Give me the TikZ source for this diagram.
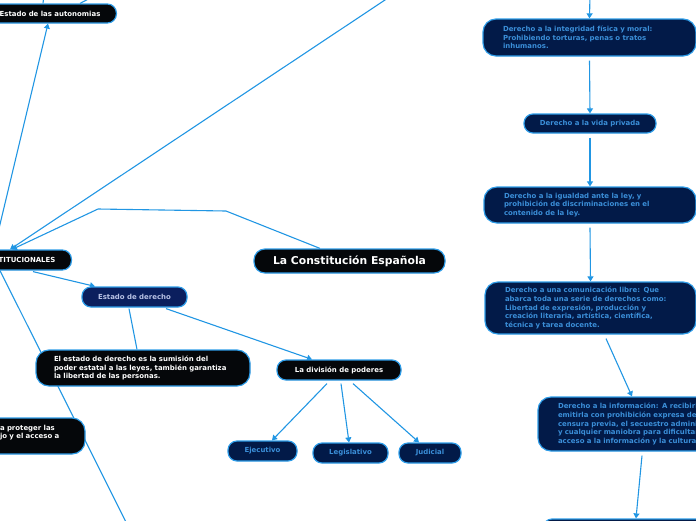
\documentclass[tikz,border=0pt]{standalone}
\usepackage{fontspec}
\setmainfont{DejaVu Sans}
\usetikzlibrary{arrows.meta,backgrounds}
\definecolor{linec}{HTML}{2196E3}
\definecolor{bordc}{HTML}{2D9CE8}
\definecolor{blkfill}{HTML}{05070A}
\definecolor{navyfill}{HTML}{021A48}
\definecolor{edfill}{HTML}{0B1F5E}
\definecolor{bluetxt}{HTML}{3B8FD9}
\definecolor{edtxt}{HTML}{B9C3E6}
\begin{document}
\begin{tikzpicture}[x=1pt,y=-1pt,
 conn/.style={draw=linec, line width=1.1pt},
 arr/.style={conn, -{Triangle[length=5pt,width=6pt]}},
 box/.style={draw=bordc, line width=1.2pt, rounded corners=9pt, inner sep=0pt,
   font=\fontsize{6.95}{8.6}\selectfont\bfseries},
 blk/.style={box, fill=blkfill, text=white},
 navy/.style={box, fill=navyfill, text=bluetxt},
 tall/.style={align=left, rounded corners=13pt, inner xsep=20pt},
]
\useasboundingbox (0,0) rectangle (696,520);
\clip (0,0) rectangle (696,520);

% nodes
\node[blk, inner xsep=16pt, minimum height=19, anchor=east] (auto) at (117,13.5) {Estado de las autonomias};
\node[blk, inner xsep=16pt, minimum height=20, anchor=east] (hub) at (72,260) {CONSTITUCIONALES};
\node[blk, font=\fontsize{10.8}{13}\selectfont\bfseries, minimum width=191, minimum height=24, rounded corners=11pt] (ce) at (349.5,261) {La Constitución Española};
\node[box, fill=edfill, text=edtxt, minimum width=105, minimum height=20] (ed) at (134.5,297) {Estado de derecho};
\node[blk, tall, inner xsep=18pt, text width=178, minimum height=36] (eed) at (143,368) {El estado de derecho es la sumisión del\\poder estatal a las leyes, también garantiza\\la libertad de las personas.};
\node[blk, minimum width=124, minimum height=20] (dp) at (339,370) {La división de poderes};
\node[navy, minimum width=69, minimum height=20] (ej) at (262.5,451) {Ejecutivo};
\node[navy, minimum width=75, minimum height=20] (leg) at (350.5,453) {Legislativo};
\node[navy, minimum width=62, minimum height=20] (jud) at (430,453) {Judicial};
\node[blk, tall, text width=65, minimum height=36] (prot) at (32.5,436) {a proteger las\\jo y el acceso a\\~};

\node[navy, tall, text width=173, minimum height=37] (integ) at (589.5,37.5) {Derecho a la integridad física y moral:\\Prohibiendo torturas, penas o tratos\\inhumanos.};
\node[navy, minimum width=132, minimum height=19] (vida) at (590,123.5) {Derecho a la vida privada};
\node[navy, tall, text width=172, minimum height=36] (igual) at (590,205) {Derecho a la igualdad ante la ley, y\\prohibición de discriminaciones en el\\contenido de la ley.};
\node[navy, tall, text width=171, minimum height=52] (comun) at (590.5,308) {Derecho a una comunicación libre: Que\\abarca toda una serie de derechos como:\\Libertad de expresión, producción y\\creación literaria, artística, científica,\\técnica y tarea docente.};
\node[navy, tall, text width=182, minimum height=54] (info) at (649,424) {Derecho a la información: A recibirla y\\emitirla con prohibición expresa de la\\censura previa, el secuestro administrativo\\y cualquier maniobra para dificultar el\\acceso a la información y la cultura.};
\node[navy, minimum width=222, minimum height=40] (bot) at (654,539) {};

\coordinate (topin) at (590,-6);
\coordinate (bigfar) at (400,-10);
\coordinate (offb) at (130,530);
\coordinate (a1) at (44,-6);
\coordinate (a2) at (98,-6);

\begin{pgfonlayer}{background}
\clip (0,0) rectangle (696,520);
\draw[conn] ([xshift=-74pt]auto.north east) -- (a1);
\draw[conn] ([xshift=-37pt]auto.north east) -- (a2);
\draw[arr] ([xshift=-78pt]hub.north east) -- ([xshift=-69pt]auto.south east);
\draw[arr] (bigfar) -- ([xshift=-62pt]hub.north east);
\draw[arr] ([xshift=-29.5pt]ce.north) -- (226,211) -- (98,209) -- ([xshift=-60pt]hub.north east);
\draw[conn] ([xshift=-72pt]hub.south east) -- (offb);
\draw[arr] ([xshift=-39pt,yshift=-1pt]hub.south east) -- ([xshift=-39.5pt]ed.north);
\draw[conn] ([xshift=-5.5pt,yshift=-1pt]ed.south) -- ([xshift=-6pt]eed.north);
\draw[arr] ([xshift=31.5pt,yshift=-1pt]ed.south) -- ([xshift=-27pt]dp.north);
\draw[arr] ([xshift=-12pt,yshift=-3pt]dp.south) -- ([xshift=9.5pt]ej.north);
\draw[arr] ([xshift=2pt,yshift=-3pt]dp.south) -- ([xshift=-1.5pt]leg.north);
\draw[arr] ([xshift=14pt,yshift=-3pt]dp.south) -- ([xshift=-11pt]jud.north);
\draw[arr] (topin) -- (integ.north);
\draw[arr] ([yshift=-4pt]integ.south) -- (vida.north);
\draw[arr] ([yshift=-4pt]vida.south) -- (igual.north);
\draw[arr] ([yshift=-4pt]igual.south) -- (comun.north);
\draw[arr] ([xshift=15.5pt,yshift=-4pt]comun.south) -- ([xshift=-17pt]info.north);
\draw[arr] ([xshift=-7pt,yshift=-4pt]info.south) -- ([xshift=-18pt]bot.north);
\end{pgfonlayer}
\end{tikzpicture}
\end{document}
